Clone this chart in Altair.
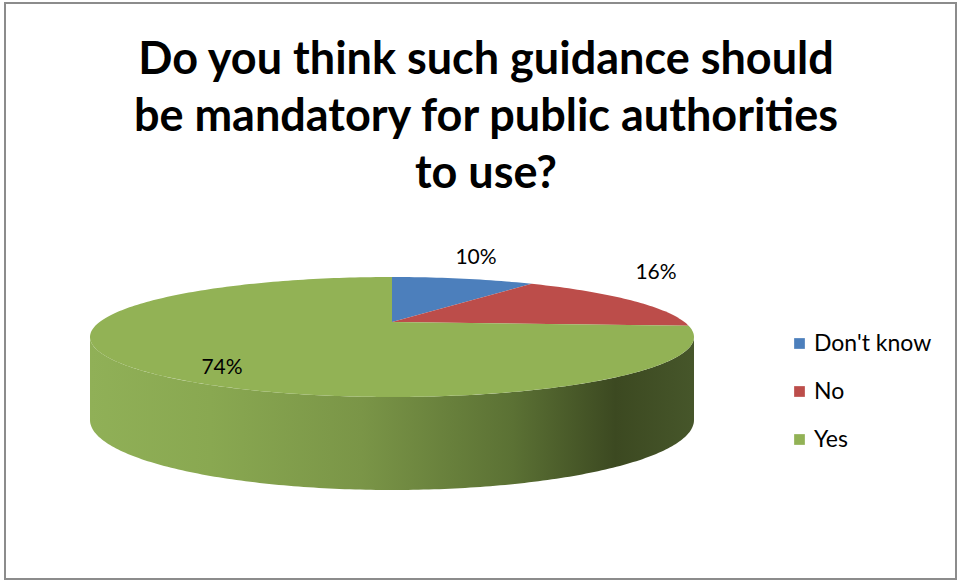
import numpy as np
import pandas as pd
import altair as alt

# ---- data ----
categories = ["Don't know", "No", "Yes"]
values = [10, 16, 74]
face_colors = ["#4c7fbc", "#bc4d4a", "#92b255"]
title_lines = ["Do you think such guidance should", "be mandatory for public authorities", "to use?"]

# ---- geometry (unit ellipse; scales map it to pixels) ----
APEX_Y = -0.25          # perspective shift of the pie centre
DEPTH_SIDE = 1.383      # side height at the left/right ends
DEPTH_FRONT = 1.167     # extra height of the bottom edge at the front


def ray_param(theta):
    """ellipse parameter where a ray from the apex at angle theta meets the rim"""
    s, c = np.sin(theta), np.cos(theta)
    # x = t*s ; y = APEX_Y - t*c ; x^2 + y^2 = 1
    bb = -2 * APEX_Y * c
    cc = APEX_Y ** 2 - 1
    t = (-bb + np.sqrt(bb * bb - 4 * cc)) / 2
    x, y = t * s, APEX_Y - t * c
    phi = np.arctan2(x, -y)
    if phi < 0:
        phi += 2 * np.pi
    return phi


total = sum(values)
rows = []
cum = 0.0
for cat, v in zip(categories, values):
    t0 = 2 * np.pi * cum / total
    t1 = 2 * np.pi * (cum + v) / total
    cum += v
    p0 = 0.0 if t0 == 0 else ray_param(t0)
    p1 = 2 * np.pi if abs(t1 - 2 * np.pi) < 1e-9 else ray_param(t1)
    n = max(4, int(np.degrees(p1 - p0)))
    phis = np.linspace(p0, p1, n)
    pts = [(0.0, APEX_Y)] + [(np.sin(p), -np.cos(p)) for p in phis] + [(0.0, APEX_Y)]
    for i, (x, y) in enumerate(pts):
        rows.append({"cat": cat, "i": i, "x": x, "y": y})
faces = pd.DataFrame(rows)

phis = np.linspace(np.pi / 2, 3 * np.pi / 2, 181)
side = pd.DataFrame({
    "x": np.sin(phis),
    "y": -np.cos(phis),
    "y2": DEPTH_SIDE + DEPTH_FRONT * (-np.cos(phis)),
})

xs = alt.Scale(domain=[-1, 1], range=[90, 694], zero=False, nice=False)
ys = alt.Scale(domain=[-1, 1], range=[277, 397], zero=False, nice=False)

side_layer = alt.Chart(side).mark_area(
    color=alt.Gradient(
        gradient="linear",
        x1=0, x2=1, y1=0, y2=0,
        stops=[
            alt.GradientStop(color="#90b057", offset=0),
            alt.GradientStop(color="#89a851", offset=0.2),
            alt.GradientStop(color="#7a9547", offset=0.45),
            alt.GradientStop(color="#5b7134", offset=0.7),
            alt.GradientStop(color="#3c4921", offset=0.87),
            alt.GradientStop(color="#46562a", offset=1),
        ],
    )
).encode(
    x=alt.X("x:Q", scale=xs, axis=None),
    y=alt.Y("y:Q", scale=ys, axis=None),
    y2="y2:Q",
)

face_layer = alt.Chart(faces).mark_line(strokeWidth=0.5, strokeOpacity=0).encode(
    x=alt.X("x:Q", scale=xs, axis=None),
    y=alt.Y("y:Q", scale=ys, axis=None),
    order="i:Q",
    detail="cat:N",
    fill=alt.Fill(
        "cat:N",
        scale=alt.Scale(domain=categories, range=face_colors),
        legend=alt.Legend(
            title=None,
            orient="none",
            legendX=788,
            legendY=332,
            symbolType="square",
            symbolSize=115,
            symbolStrokeWidth=0,
            labelFont="Lato",
            labelFontSize=23,
            labelColor="#000000",
            labelOffset=3,
            rowPadding=24,
        ),
    ),
)

label_style = dict(font="Lato", fontSize=21, color="#000000", baseline="middle", align="center")
labels = [
    alt.Chart(pd.DataFrame({"t": [f"{values[0]}%"]})).mark_text(**label_style).encode(
        text="t:N", x=alt.value(476), y=alt.value(258)),
    alt.Chart(pd.DataFrame({"t": [f"{values[1]}%"]})).mark_text(**label_style).encode(
        text="t:N", x=alt.value(656), y=alt.value(273)),
    alt.Chart(pd.DataFrame({"t": [f"{values[2]}%"]})).mark_text(**label_style).encode(
        text="t:N", x=alt.value(222), y=alt.value(368)),
]

title_layer = alt.Chart(pd.DataFrame({"t": ["\n".join(title_lines)]})).mark_text(
    font="Lato", fontSize=45, fontWeight="bold", color="#000000",
    align="center", baseline="middle", lineBreak="\n", lineHeight=57,
).encode(text="t:N", x=alt.value(486), y=alt.value(60))

frame = alt.Chart(pd.DataFrame({"a": [0]})).mark_rect(
    fill=None, stroke="#8c8c8c", strokeWidth=2
).encode(x=alt.value(5), x2=alt.value(956), y=alt.value(3), y2=alt.value(579))

chart = alt.layer(
    frame, side_layer, face_layer, *labels, title_layer
).properties(
    width=964, height=581, padding=0, autosize=alt.AutoSizeParams(type="none"),
    background="#ffffff",
).configure_view(stroke=None)

chart.save("out.html", embed_options={"renderer": "svg", "actions": False})
